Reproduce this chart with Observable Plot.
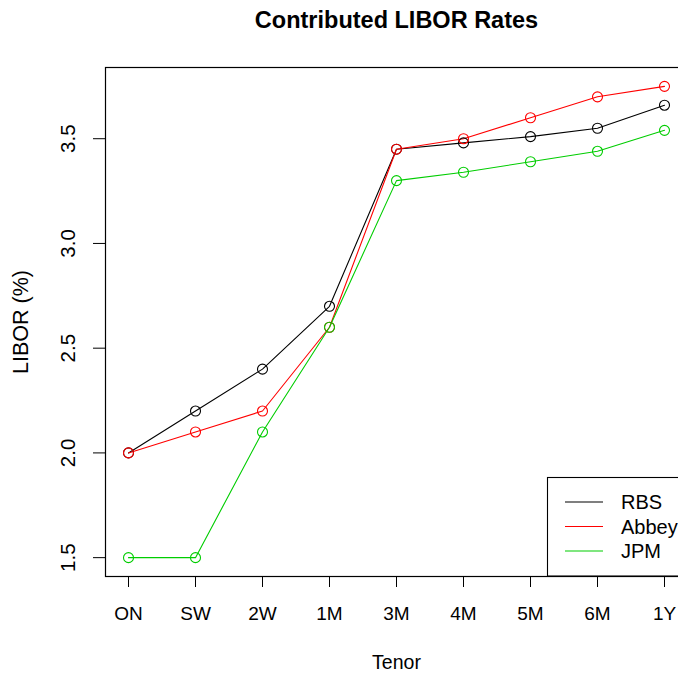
<!DOCTYPE html>
<html>
<head>
<meta charset="utf-8">
<script src="https://cdn.jsdelivr.net/npm/d3@7"></script>
<script src="https://cdn.jsdelivr.net/npm/@observablehq/plot@0.6"></script>
<style>
  html, body { margin: 0; padding: 0; background: #fff; overflow: hidden; }
  #chart svg { overflow: hidden; font-family: "Liberation Sans", Arial, Helvetica, sans-serif; }
</style>
</head>
<body>
<div id="chart"></div>
<script>
const tenors = ["ON", "SW", "2W", "1M", "3M", "4M", "5M", "6M", "1Y"];
const rbs   = [2.00, 2.20, 2.40, 2.70, 3.45, 3.48, 3.51, 3.55, 3.66];
const abbey = [2.00, 2.10, 2.20, 2.60, 3.45, 3.50, 3.60, 3.70, 3.75];
const jpm   = [1.50, 1.50, 2.10, 2.60, 3.30, 3.34, 3.39, 3.44, 3.54];
const seriesNames = ["RBS", "Abbey", "JPM"];
const seriesColors = ["#000000", "#FF0000", "#00CD00"];
const yTicks = [1.5, 2.0, 2.5, 3.0, 3.5];
const title = "Contributed LIBOR Rates";
const xTitle = "Tenor";
const yTitle = "LIBOR (%)";

const seriesValues = [rbs, abbey, jpm];
const rows = [];
seriesNames.forEach((s, i) => {
  tenors.forEach((t, j) => rows.push({series: s, tenor: t, value: seriesValues[i][j]}));
});

const allVals = seriesValues.flat();
const lo = d3.min(allVals), hi = d3.max(allVals);
const pad = (hi - lo) * 0.04;

const FONT = 19;
const chart = Plot.plot({
  width: 678,
  height: 675,
  marginLeft: 105,
  marginRight: -9,
  marginTop: 67,
  marginBottom: 99,
  style: {fontFamily: '"Liberation Sans", Arial, Helvetica, sans-serif', fontSize: FONT + "px", background: "#fff"},
  x: {type: "point", domain: tenors, padding: 0.32},
  y: {domain: [lo - pad, hi + pad]},
  color: {domain: seriesNames, range: seriesColors},
  marks: [
    Plot.axisX({tickSize: 11, tickPadding: 19, fontSize: FONT, label: null, stroke: "#000", color: "#000"}),
    Plot.axisY({ticks: yTicks, tickFormat: d3.format(".1f"), tickSize: 12, tickPadding: 18.5, tickRotate: -90,
                textAnchor: "middle", lineAnchor: "bottom", fontSize: 20.5, label: null, stroke: "#000", color: "#000"}),
    Plot.line(rows, {x: "tenor", y: "value", z: "series", stroke: "series", strokeWidth: 1.1}),
    Plot.dot(rows, {x: "tenor", y: "value", stroke: "series", r: 5, strokeWidth: 1.1, fill: "none"}),
    Plot.frame({stroke: "#000", strokeWidth: 1.2}),
    Plot.text([title], {frameAnchor: "top", dy: -40, lineAnchor: "bottom", textAnchor: "middle", fontSize: 23.5, fontWeight: "bold", fill: "#000"}),
    Plot.text([xTitle], {frameAnchor: "bottom", dy: 92, lineAnchor: "bottom", textAnchor: "middle", fontSize: FONT + 0.5, fill: "#000"}),
    Plot.text([yTitle], {frameAnchor: "left", dx: -78, rotate: -90, lineAnchor: "bottom", textAnchor: "middle", fontSize: 21.5, fill: "#000"})
  ]
});

// legend (bottom-right, as in the original base-graphics plot)
const svg = d3.select(chart);
const g = svg.append("g").attr("font-family", '"Liberation Sans", Arial, Helvetica, sans-serif')
  .attr("font-size", 20).attr("text-anchor", "start");
g.append("rect").attr("x", 547.5).attr("y", 477.5).attr("width", 200).attr("height", 98.5)
  .attr("fill", "#fff").attr("stroke", "#000").attr("stroke-width", 1.1);
seriesNames.forEach((s, i) => {
  const yy = 502 + i * 24.5;
  g.append("line").attr("x1", 565).attr("x2", 603).attr("y1", yy).attr("y2", yy)
    .attr("stroke", seriesColors[i]).attr("stroke-width", 1.1);
  g.append("text").attr("x", 621).attr("y", yy).attr("dy", "0.36em").attr("fill", "#000").text(s);
});

document.getElementById("chart").appendChild(chart);
</script>
</body>
</html>
